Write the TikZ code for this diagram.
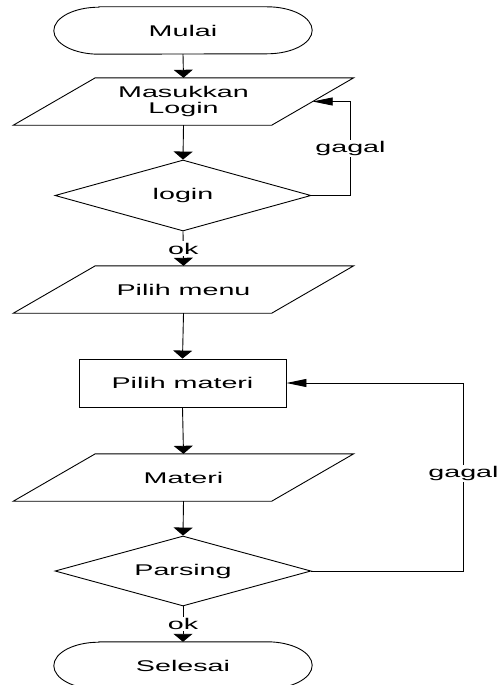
\documentclass[tikz,border=0pt]{standalone}
\usepackage{fontspec}
\setmainfont[FakeStretch=1.85]{Liberation Sans}
\usetikzlibrary{shapes.geometric,arrows.meta}
\tikzset{
  x=1pt,y=1pt,
  txt/.style={font=\fontsize{15.5}{16}\selectfont, inner sep=0pt, align=center},
  termbox/.style={txt, minimum width=258pt, minimum height=47pt},
  parabox/.style={txt, minimum width=258pt, minimum height=47pt},
  procbox/.style={txt, draw, line width=0.9pt, minimum width=207pt, minimum height=48pt},
  decbox/.style={txt, diamond, aspect=3.6, draw, line width=0.9pt, minimum width=256pt, minimum height=71pt},
  outline/.style={draw, line width=0.9pt},
  lbl/.style={txt, fill=white, inner sep=1.5pt},
  varr/.style={line width=0.9pt, -{Triangle[length=8pt,width=19pt]}},
  harr/.style={line width=0.9pt, -{Triangle[length=20pt,width=8pt]}},
}
\newcommand\termshape[1]{%
  \path[outline] ([xshift=45pt]#1.north west) -- ([xshift=-45pt]#1.north east)
    arc[start angle=90,end angle=-90,x radius=45pt,y radius=23.5pt]
    -- ([xshift=45pt]#1.south west)
    arc[start angle=270,end angle=90,x radius=45pt,y radius=23.5pt] -- cycle;}
\newcommand\parashape[1]{%
  \path[outline] ([xshift=41pt]#1.north west) -- ([xshift=41pt]#1.north east)
    -- ([xshift=-41pt]#1.south east) -- ([xshift=-41pt]#1.south west) -- cycle;}
\begin{document}
\begin{tikzpicture}
  \fill[white] (0,0) rectangle (498,-685);
  \clip (0,0) rectangle (498,-685);
  \useasboundingbox (0,0) rectangle (498,-685);

  \node[termbox] (mulai) at (183,-30.5) {Mulai};
  \termshape{mulai}
  \node[parabox] (masuk) at (183.5,-101.5) {Masukkan\\Login};
  \parashape{masuk}
  \node[decbox] (login) at (183,-195.5) {login};
  \node[parabox] (menu) at (183.5,-289.5) {Pilih menu};
  \parashape{menu}
  \node[procbox] (materi) at (182.5,-383) {Pilih materi};
  \node[parabox] (mat) at (183.5,-477.5) {Materi};
  \parashape{mat}
  \node[decbox, minimum height=70pt] (pars) at (183,-571) {Parsing};
  \node[termbox] (selesai) at (183,-665.5) {Selesai};
  \termshape{selesai}

  \draw[varr] (mulai.south) -- (masuk.north);
  \draw[varr] (masuk.south) -- (login.north);
  \draw[varr] (login.south) -- node[lbl] (ok1) {ok} (menu.north);
  \draw[varr] (menu.south) -- (materi.north);
  \draw[varr] (materi.south) -- (mat.north);
  \draw[varr] (mat.south) -- (pars.north);
  \draw[varr] (pars.south) -- node[lbl] (ok2) {ok} (selesai.north);

  \draw[harr] (login.east) -- ++(39,0) |- node[lbl, pos=0.25] (gagal1) {gagal} (masuk.east);
  \draw[harr] (pars.east) -- ++(152,0) |- node[lbl, pos=0.26] (gagal2) {gagal} (materi.east);
\end{tikzpicture}
\end{document}
